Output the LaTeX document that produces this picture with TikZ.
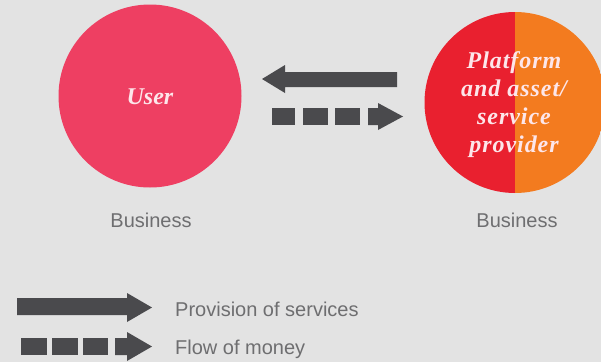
\documentclass[tikz,border=0pt]{standalone}
\usepackage{fontspec}
\setmainfont{Liberation Sans}
\newfontfamily\circfont{Liberation Serif}
\begin{document}
\begin{tikzpicture}[x=1pt,y=-1pt,
  captext/.style={text=capgray,font=\fontsize{20}{24}\selectfont,inner sep=0pt},
  circtext/.style={text=txtpink,font=\circfont\bfseries\itshape\fontsize{24}{28}\selectfont,align=center,inner sep=0pt}]
\definecolor{bggray}{HTML}{E3E3E3}
\definecolor{arrgray}{HTML}{4A4A4D}
\definecolor{capgray}{HTML}{6E6E70}
\definecolor{userpink}{HTML}{EE3F62}
\definecolor{provred}{HTML}{E9202F}
\definecolor{provorange}{HTML}{F37B1F}
\definecolor{txtpink}{HTML}{FDE6EA}
\useasboundingbox (0,0) rectangle (601,362);
\fill[bggray] (0,0) rectangle (601,362);
% user circle
\fill[userpink] (150,96) circle[radius=91.5];
\node[circtext] (user) at (150,97) {User};
% provider circle split
\begin{scope}
  \clip (515,102.5) circle[radius=90.5];
  \fill[provred] (420,0) rectangle (515,200);
  \fill[provorange] (515,0) rectangle (610,200);
\end{scope}
\node[circtext] (prov) at (514,105) {\addfontfeature{LetterSpace=4}Platform\\\addfontfeature{LetterSpace=4}and asset/\\\addfontfeature{LetterSpace=4}service\\\addfontfeature{LetterSpace=4}provider};
% captions
\node[captext] (b1) at (151,220) {Business};
\node[captext] (b2) at (517,220) {Business};
% top arrow (services, pointing left)
\fill[arrgray] (262,79) -- (285,65) -- (285,72) -- (397,72) -- (397,87) -- (285,87) -- (285,93) -- cycle;
% dashed arrow (money, pointing right)
\fill[arrgray] (272,108) rectangle (295,125);
\fill[arrgray] (303,108) rectangle (328,125);
\fill[arrgray] (335,108) rectangle (360,125);
\fill[arrgray] (368,108) -- (378,108) -- (378,103) -- (403,116.5) -- (378,130) -- (378,125) -- (368,125) -- cycle;
% legend solid
\fill[arrgray] (17,298) -- (127,298) -- (127,293) -- (152,307.5) -- (127,322) -- (127,315) -- (17,315) -- cycle;
\node[captext,anchor=west] (l1) at (175,309) {Provision of services};
% legend dashed
\fill[arrgray] (21,338) rectangle (47,355);
\fill[arrgray] (52,338) rectangle (78,355);
\fill[arrgray] (83,338) rectangle (108,355);
\fill[arrgray] (115,338) -- (127,338) -- (127,332) -- (152,346.5) -- (127,361) -- (127,355) -- (115,355) -- cycle;
\node[captext,anchor=west] (l2) at (175,349) {Flow of money};
\end{tikzpicture}
\end{document}
